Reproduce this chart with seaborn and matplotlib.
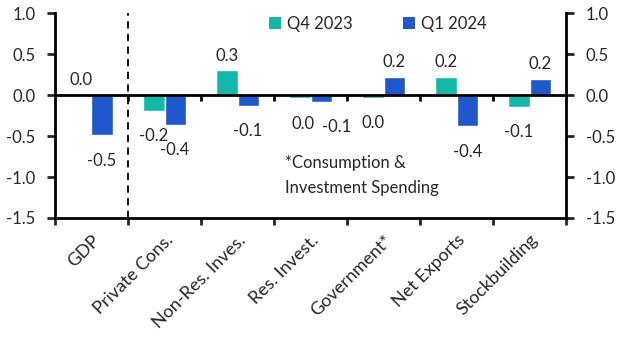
import numpy as np
import pandas as pd
import seaborn as sns
import matplotlib.pyplot as plt
from matplotlib.ticker import FixedLocator
from matplotlib.patches import Patch

categories = ['GDP', 'Private Cons.', 'Non-Res. Inves.', 'Res. Invest.',
              'Government*', 'Net Exports', 'Stockbuilding']
q4_2023 = [0.0, -0.19, 0.30, -0.04, -0.03, 0.22, -0.14]
q1_2024 = [-0.49, -0.36, -0.13, -0.08, 0.22, -0.38, 0.20]
series_names = ['Q4 2023', 'Q1 2024']
colors = ['#12B8A8', '#1F58CC']

df = pd.DataFrame({
    'category': categories * 2,
    'value': q4_2023 + q1_2024,
    'series': [series_names[0]] * len(categories) + [series_names[1]] * len(categories),
})

sns.set_style('white')
plt.rcParams['font.family'] = ['Lato', 'DejaVu Sans']
plt.rcParams['axes.unicode_minus'] = False

fig, ax = plt.subplots(figsize=(6.29, 3.55), dpi=100)
fig.subplots_adjust(left=0.0874, right=0.900, top=0.963, bottom=0.386)

sns.barplot(data=df, x='category', y='value', hue='series', palette=colors,
            width=0.58, errorbar=None, saturation=1, ax=ax, legend=False)

fs = 12
for k, (cont, vals) in enumerate(zip(ax.containers, [q4_2023, q1_2024])):
    labels = [f'{v:.1f}'.replace('-0.0', '0.0') for v in vals]
    anns = ax.bar_label(cont, labels=labels, padding=5, fontsize=fs)
    for i, (ann, v) in enumerate(zip(anns, vals)):
        dx = 0
        # the two small Res. Invest. labels sit side by side, nudged right
        if categories[i] == 'Res. Invest.':
            dx = 2 if k == 0 else 11
        dy = 5 if v >= 0 else -12.5
        ann.xyann = (dx, dy)

ax.set_xlim(-0.5, len(categories) - 0.5)
ax.set_ylim(-1.5, 1.0)
ax.set_yticks(np.arange(-1.5, 1.01, 0.5))
ax.yaxis.set_major_formatter(plt.FuncFormatter(lambda v, p: f'{v:.1f}'))
ax.axhline(0, color='black', lw=2, zorder=3)
ax.axvline(0.5, color='black', lw=1.3, ls=(0, (4, 3)), zorder=3)

# small marks under the zero line at category boundaries
ax.vlines(np.arange(0.5, len(categories) - 0.5), -0.07, 0, color='black', lw=2, zorder=3)

ax.set_xlabel('')
ax.set_ylabel('')
ax.set_xticks(range(len(categories)))
ax.set_xticklabels(categories, rotation=45, ha='right', va='top',
                   rotation_mode='anchor', fontsize=13)
ax.tick_params(axis='x', which='major', length=0, pad=10)
ax.xaxis.set_minor_locator(FixedLocator(np.arange(-0.5, len(categories), 1)))
ax.tick_params(axis='x', which='minor', length=5, width=2, direction='out', bottom=True)
ax.tick_params(axis='y', length=6, width=2, direction='out', left=True, right=True,
               labelleft=True, labelright=True, labelsize=fs, pad=8)

for side in ['left', 'right', 'bottom']:
    ax.spines[side].set_visible(True)
    ax.spines[side].set_linewidth(2)
    ax.spines[side].set_color('black')
ax.spines['top'].set_visible(False)

handles = [Patch(facecolor=c, edgecolor='none') for c in colors]
ax.legend(handles, series_names, loc='upper center', bbox_to_anchor=(0.632, 1.06),
          ncol=2, frameon=False, fontsize=fs, handlelength=0.7, handleheight=0.7,
          handletextpad=0.4, columnspacing=3.0)

ax.text(0.45, 0.305, '*Consumption &\nInvestment Spending', transform=ax.transAxes,
        fontsize=fs, va='top', ha='left', linespacing=1.65)

plt.savefig('out.png', dpi=100)
